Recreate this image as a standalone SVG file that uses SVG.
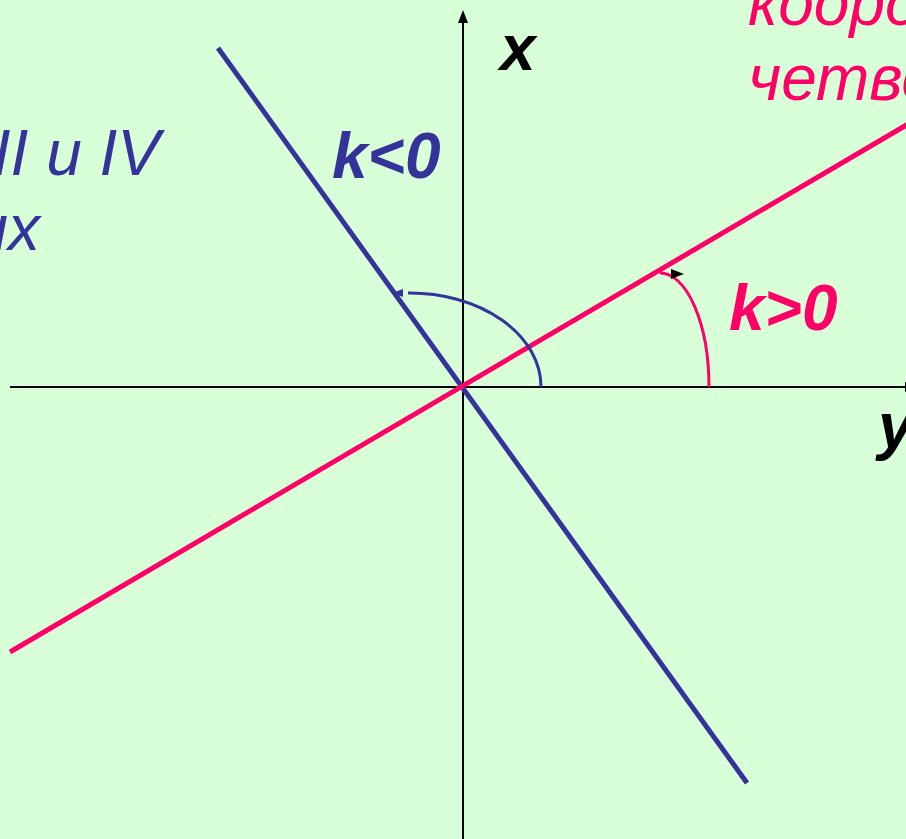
<svg xmlns="http://www.w3.org/2000/svg" width="906" height="839" viewBox="0 0 906 839">
<style>
.t{font-family:"Liberation Sans",Arial,sans-serif;font-style:italic;font-size:64px}
.b{font-weight:bold}
.blue{fill:#333399}
.pink{fill:#FF0066}
.axis{stroke:#000;stroke-width:2;fill:none}
</style>
<rect width="906" height="839" fill="#D9FFD9"/>
<g id="connectors">
<g id="axes">
<line class="axis" x1="10" y1="387" x2="906" y2="387"/>
<polygon points="918,387 905,382 905,392" fill="#000"/>
<line class="axis" x1="463" y1="839" x2="463" y2="20"/>
<polygon points="463,10 458,23 468,23" fill="#000"/>
</g>
<line id="line-neg" x1="218" y1="48" x2="747" y2="783" stroke="#333399" stroke-width="5"/>
<line id="line-pos" x1="10" y1="652" x2="920" y2="117" stroke="#FF0066" stroke-width="5"/>
<path id="arc-neg" d="M541,387 A131 94 0 0 0 408 293" fill="none" stroke="#333399" stroke-width="3"/>
<polygon points="392,293 403,289 403,297" fill="#333399"/>
<path id="arc-pos" d="M709,387 A49 114 0 0 0 660 273" fill="none" stroke="#FF0066" stroke-width="3"/>
<polygon points="671,269 684,274 671,279" fill="#000"/>
</g>
<g id="label-x"><text class="t b" x="500" y="70" font-size="54">x</text></g>
<g id="label-y"><text class="t b" x="878" y="448" font-size="54">y</text></g>
<g id="label-kneg"><text class="t b blue" x="332" y="178">k&lt;0</text></g>
<g id="label-kpos"><text class="t b pink" x="729" y="330">k&gt;0</text></g>
<g id="text-left" class="t blue">
<text x="160" y="175" text-anchor="end">во II и IV</text>
<text x="40" y="250" text-anchor="end">координатных</text>
</g>
<g id="text-right" class="t pink">
<text x="748" y="25">координатных</text>
<text x="748" y="100">четвертях</text>
</g>
</svg>
